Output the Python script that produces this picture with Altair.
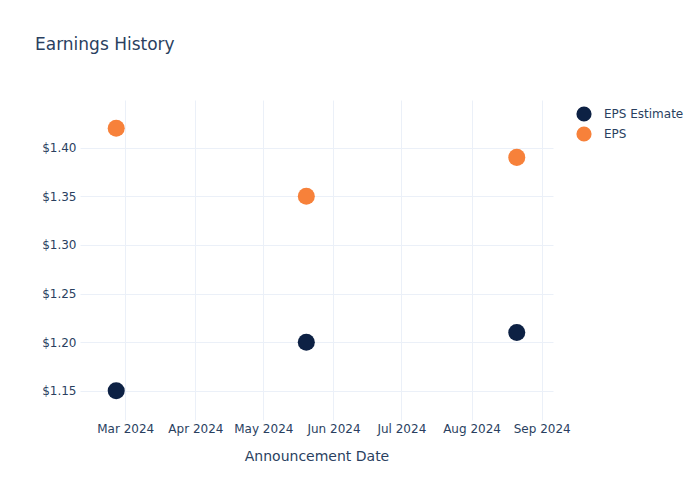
import altair as alt
import pandas as pd

dates = ["2024-02-26", "2024-05-20", "2024-08-21"]
eps_estimate = [1.15, 1.20, 1.21]
eps_actual = [1.42, 1.35, 1.39]
series_names = ["EPS Estimate", "EPS"]
series_colors = ["#0D2144", "#F7813A"]

rows = []
for d, v in zip(dates, eps_estimate):
    rows.append({"date": d, "value": v, "series": series_names[0]})
for d, v in zip(dates, eps_actual):
    rows.append({"date": d, "value": v, "series": series_names[1]})
df = pd.DataFrame(rows)

text_color = "#2a3f5f"
grid_color = "#EBF0F8"

chart = alt.Chart(df).mark_circle(size=290, opacity=1).encode(
    x=alt.X("date:T",
            title="Announcement Date",
            scale=alt.Scale(domain=["2024-02-10", "2024-09-06"]),
            axis=alt.Axis(format="%b %Y", tickCount={"interval": "month", "step": 1},
                          labelFontSize=12, labelColor=text_color, titleFontSize=14,
                          titleColor=text_color, titleFontWeight="normal", titlePadding=15,
                          domain=False, ticks=False, labelPadding=3,
                          gridColor=grid_color, labelFont="DejaVu Sans", titleFont="DejaVu Sans")),
    y=alt.Y("value:Q",
            title=None,
            scale=alt.Scale(domain=[1.120, 1.449], nice=False, zero=False),
            axis=alt.Axis(format="$.2f", values=[1.15, 1.20, 1.25, 1.30, 1.35, 1.40],
                          labelFontSize=12, labelColor=text_color, domain=False,
                          ticks=False, labelPadding=4, gridColor=grid_color,
                          labelFont="DejaVu Sans")),
    color=alt.Color("series:N",
                    scale=alt.Scale(domain=series_names, range=series_colors),
                    legend=alt.Legend(title=None, orient="none", legendX=496, legendY=6,
                                      labelFontSize=12, labelColor=text_color,
                                      symbolSize=230, symbolType="circle",
                                      labelFont="DejaVu Sans", rowPadding=4, labelOffset=12,
                                      symbolStrokeWidth=0, symbolOpacity=1)),
).properties(
    width=473,
    height=320,
    background="white",
    title=alt.TitleParams("Earnings History", anchor="start", frame="group", dx=-45, offset=46,
                          fontSize=17, color=text_color, fontWeight="normal",
                          font="DejaVu Sans"),
    autosize=alt.AutoSizeParams(type="none"),
    padding={"left": 80, "top": 100, "right": 147, "bottom": 80},
).configure_view(stroke=None)

chart.save("out.html", embed_options={"renderer": "svg", "actions": False})
